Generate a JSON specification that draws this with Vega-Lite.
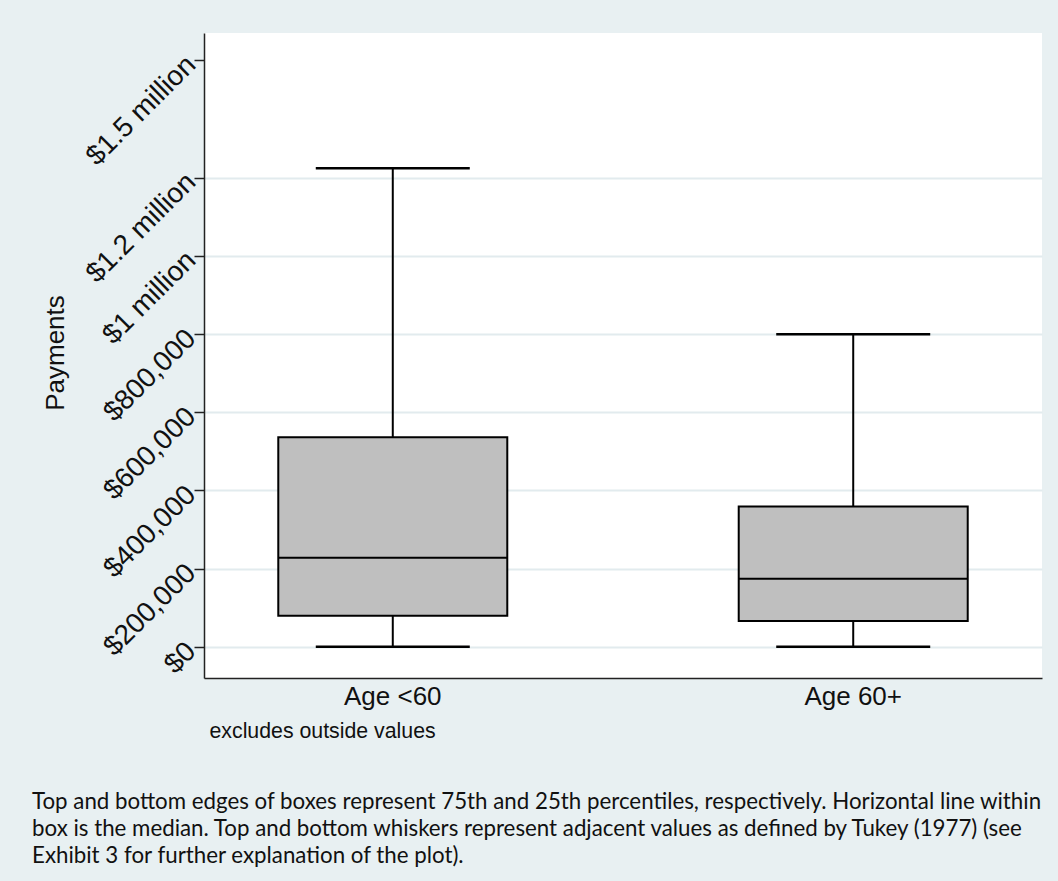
{
  "$schema": "https://vega.github.io/schema/vega-lite/v6.json",
  "width": 838,
  "height": 645,
  "autosize": {"type": "none"},
  "padding": {"left": 204, "top": 33, "right": 16, "bottom": 203},
  "background": "#e8f0f2",
  "data": {
    "values": [
      {"group": "Age <60", "lower": 0, "q1": 79000, "median": 227500, "q3": 536000, "upper": 1224000},
      {"group": "Age 60+", "lower": 0, "q1": 65700, "median": 174000, "q3": 358800, "upper": 799500}
    ]
  },
  "title": {
    "text": [
      "Top and bottom edges of boxes represent 75th and 25th percentiles, respectively. Horizontal line within",
      "box is the median. Top and bottom whiskers represent adjacent values as defined by Tukey (1977) (see",
      "Exhibit 3 for further explanation of the plot)."
    ],
    "orient": "bottom",
    "anchor": "start",
    "frame": "group",
    "dx": -172,
    "offset": 50,
    "font": "Lato",
    "fontSize": 22.3,
    "fontWeight": "normal",
    "color": "#111111",
    "lineHeight": 27,
    "baseline": "top"
  },
  "encoding": {
    "x": {
      "field": "group",
      "type": "nominal",
      "sort": null,
      "scale": {"paddingInner": 0.5, "paddingOuter": 0.16},
      "axis": {
        "title": "excludes outside values",
        "titleX": 5,
        "titleY": 59,
        "titleAlign": "left",
        "titleBaseline": "alphabetic",
        "titleFont": "Liberation Sans",
        "titleFontSize": 21.3,
        "titleFontWeight": "normal",
        "titleColor": "#111111",
        "labelAngle": 0,
        "labelFont": "Liberation Sans",
        "labelFontSize": 26,
        "labelColor": "#111111",
        "labelPadding": 5,
        "ticks": false,
        "domainColor": "#222222",
        "domainWidth": 1.5,
        "grid": false
      }
    }
  },
  "layer": [
    {
      "mark": {"type": "rule", "color": "black", "strokeWidth": 2},
      "encoding": {
        "y": {
          "field": "lower",
          "type": "quantitative",
          "scale": {"domain": [-80000, 1570000], "nice": false, "zero": false},
          "axis": {
            "title": "Payments",
            "titleX": -141,
            "titleY": 319.5,
            "titleAngle": 270,
            "titleAlign": "center",
            "titleBaseline": "alphabetic",
            "titleFont": "Liberation Sans",
            "titleFontSize": 26,
            "titleFontWeight": "normal",
            "titleColor": "#111111",
            "values": [0, 200000, 400000, 600000, 800000, 1000000, 1200000, 1500000],
            "labelExpr": "datum.value == 1500000 ? '$1.5 million' : datum.value == 1200000 ? '$1.2 million' : datum.value == 1000000 ? '$1 million' : '$' + format(datum.value, ',')",
            "labelAngle": -45,
            "labelAlign": "right",
            "labelBaseline": "middle",
            "labelFont": "Liberation Sans",
            "labelFontSize": 28,
            "labelColor": "#111111",
            "labelPadding": 3,
            "labelOverlap": false,
            "labelBound": false,
            "tickSize": 10,
            "tickWidth": 1.5,
            "tickColor": "#222222",
            "domainColor": "#222222",
            "domainWidth": 1.5,
            "grid": true,
            "gridColor": {"condition": {"test": "datum.value == 1500000", "value": "transparent"}, "value": "#e2ebee"},
            "gridWidth": 2
          }
        },
        "y2": {"field": "q1"}
      }
    },
    {
      "mark": {"type": "rule", "color": "black", "strokeWidth": 2},
      "encoding": {
        "y": {"field": "q3", "type": "quantitative"},
        "y2": {"field": "upper"}
      }
    },
    {
      "mark": {"type": "bar", "width": 229, "fill": "#bfbfbf", "stroke": "black", "strokeWidth": 2},
      "encoding": {
        "y": {"field": "q1", "type": "quantitative"},
        "y2": {"field": "q3"}
      }
    },
    {
      "mark": {"type": "tick", "size": 229, "thickness": 2, "color": "black", "opacity": 1},
      "encoding": {
        "y": {"field": "median", "type": "quantitative"}
      }
    },
    {
      "mark": {"type": "tick", "size": 154, "thickness": 2.5, "color": "black", "opacity": 1},
      "encoding": {
        "y": {"field": "upper", "type": "quantitative"}
      }
    },
    {
      "mark": {"type": "tick", "size": 154, "thickness": 2.5, "color": "black", "opacity": 1},
      "encoding": {
        "y": {"field": "lower", "type": "quantitative"}
      }
    }
  ],
  "config": {
    "view": {"fill": "white", "stroke": null}
  }
}
